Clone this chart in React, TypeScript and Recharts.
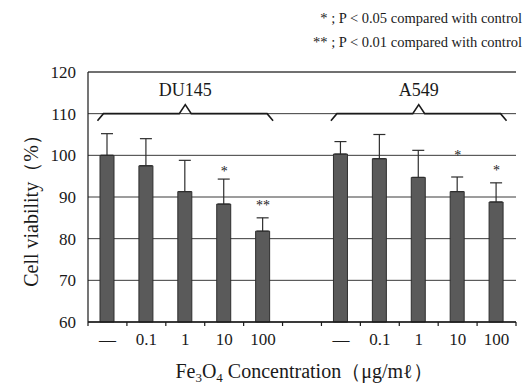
import React from 'react';
import {
  ComposedChart,
  Bar,
  ErrorBar,
  Scatter,
  XAxis,
  YAxis,
  CartesianGrid,
  ReferenceLine,
} from 'recharts';

// categories: 5 DU145 doses, an empty gap slot, 5 A549 doses
const catKeys = ['d0', 'd01', 'd1', 'd10', 'd100', 'gap', 'a0', 'a01', 'a1', 'a10', 'a100'];
const tickLabels = ['—', '0.1', '1', '10', '100', '', '—', '0.1', '1', '10', '100'];
const viability = [100, 97.5, 91.3, 88.3, 81.8, null, 100.3, 99.2, 94.7, 91.3, 88.8];
const sdUpper = [5.2, 6.5, 7.5, 6.0, 3.2, null, 3.0, 5.8, 6.5, 3.5, 4.6];
const sigMarks = ['', '', '', '*', '**', '', '', '', '', '*', '*'];
const sigLevel = [null, null, null, 96.5, 88.3, null, null, null, null, 100.3, 96.8];
const yTicks = [60, 70, 80, 90, 100, 110, 120];

const W = 525;
const H = 388;
const MARGIN = { top: 72, right: 9, left: 28, bottom: 36 };
const Y_AXIS_W = 60;
const PLOT_W = W - MARGIN.left - MARGIN.right - Y_AXIS_W;
const BAND = PLOT_W / catKeys.length;
const FONT = '"Liberation Serif", "DejaVu Serif", serif';
const INK = '#1a1a1a';
const serif = { fontFamily: FONT };

const data = catKeys.map((k, i) => ({
  key: k,
  value: viability[i],
  err: sdUpper[i] == null ? null : [0, sdUpper[i]],
  sig: sigMarks[i],
  sigY: sigLevel[i],
}));

const labelFor = (k: string) => tickLabels[catKeys.indexOf(k)];

const XTick = (props: any) => {
  const { x, y, payload, index } = props;
  const top = y - 8;
  return (
    <g>
      <line x1={x - BAND / 2} x2={x - BAND / 2} y1={top} y2={top + 4} stroke={INK} strokeWidth={1.2} />
      {index === catKeys.length - 1 && (
        <line x1={x + BAND / 2} x2={x + BAND / 2} y1={top} y2={top + 4} stroke={INK} strokeWidth={1.2} />
      )}
      <text x={x} y={y + 15} textAnchor="middle" fontSize={17} style={serif} fill={INK}>
        {labelFor(payload.value)}
      </text>
    </g>
  );
};

const YTick = (props: any) => {
  const { x, y, payload } = props;
  return (
    <text x={x} y={y + 6} textAnchor="end" fontSize={17} style={serif} fill={INK}>
      {payload.value}
    </text>
  );
};

const braceShape = (name: string) => (props: any) => {
  const { x1, x2, y1 } = props;
  const a = x1 - 10;
  const b = x2 + 10;
  const mid = (x1 + x2) / 2;
  const y = y1;
  const d = `M${a},${y + 7} L${a + 6},${y} L${mid - 6},${y} L${mid},${y - 9} L${mid + 6},${y} L${b - 6},${y} L${b},${y + 7}`;
  return (
    <g>
      <path d={d} fill="none" stroke={INK} strokeWidth={1.6} />
      <text x={mid} y={y - 18} textAnchor="middle" fontSize={18} style={serif} fill={INK}>
        {name}
      </text>
    </g>
  );
};

const StarShape = (props: any) => {
  const { cx, cy, payload } = props;
  if (!payload || !payload.sig || cy == null || isNaN(cy)) return <g />;
  return (
    <text x={cx} y={cy + 6} textAnchor="middle" fontSize={14} style={serif} fill="#222">
      {payload.sig}
    </text>
  );
};

export default function App() {
  return (
    <div style={{ position: 'absolute', left: 0, top: 0, width: W, height: H, background: '#fff', fontFamily: FONT }}>
      <ComposedChart width={W} height={H} data={data} margin={MARGIN}>
        <CartesianGrid vertical={false} stroke="#3a3a3a" />
        <XAxis
          dataKey="key"
          height={30}
          tickLine={false}
          axisLine={{ stroke: INK, strokeWidth: 1.5 }}
          interval={0}
          tick={<XTick />}
        />
        <YAxis
          domain={[60, 120]}
          ticks={yTicks}
          width={Y_AXIS_W}
          tickLine={false}
          axisLine={{ stroke: INK, strokeWidth: 1.2 }}
          tick={<YTick />}
          tickMargin={6}
        />
        <YAxis yAxisId="frame" orientation="right" width={0} tick={false} tickLine={false} axisLine={{ stroke: '#555' }} />
        <ReferenceLine y={120} stroke="#444" />
        <ReferenceLine
          segment={[{ x: 'd0', y: 110 }, { x: 'd100', y: 110 }]}
          ifOverflow="visible"
          shape={braceShape('DU145')}
        />
        <ReferenceLine
          segment={[{ x: 'a0', y: 110 }, { x: 'a100', y: 110 }]}
          ifOverflow="visible"
          shape={braceShape('A549')}
        />
        <Bar dataKey="value" barSize={14} fill="#5a5a5a" stroke="#2e2e2e" isAnimationActive={false}>
          <ErrorBar dataKey="err" width={6} stroke="#2e2e2e" strokeWidth={1.2} />
        </Bar>
        <Scatter dataKey="sigY" shape={<StarShape />} isAnimationActive={false} />
      </ComposedChart>
      <svg width={W} height={H} style={{ position: 'absolute', left: 0, top: 0, pointerEvents: 'none' }}>
        <text x={522} y={23} textAnchor="end" fontSize={14.5} style={serif} fill={INK}>
          * ; P &lt; 0.05 compared with control
        </text>
        <text x={522} y={47} textAnchor="end" fontSize={14.5} style={serif} fill={INK}>
          ** ; P &lt; 0.01 compared with control
        </text>
        <text
          x={38}
          y={206}
          transform="rotate(-90 38 206)"
          textAnchor="middle"
          fontSize={20}
          style={serif}
          fill={INK}
        >
          Cell viability（%）
        </text>
        <text x={304} y={378} textAnchor="middle" fontSize={20} style={serif} fill={INK}>
          Fe<tspan fontSize={13} dy={4}>3</tspan>
          <tspan dy={-4}>O</tspan>
          <tspan fontSize={13} dy={4}>4</tspan>
          <tspan dy={-4}> Concentration（μg/mℓ）</tspan>
        </text>
      </svg>
    </div>
  );
}
